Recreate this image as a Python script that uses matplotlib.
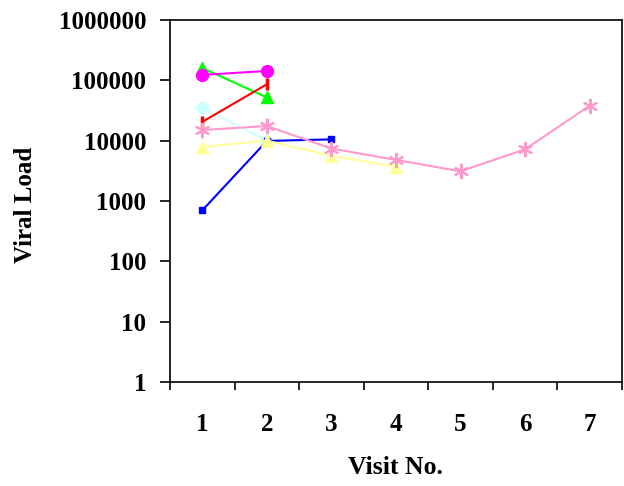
import matplotlib.pyplot as plt
import numpy as np

# viral load per patient across visits
visits = np.arange(1, 8)

cyan_vl = [35000, 10000]
blue_vl = [700, 9900, 10500]
yellow_vl = [7900, 10000, 5600, 3700]
green_vl = [160000, 52000]
magenta_vl = [123000, 143000]
red_vl = [20500, 86000]
pink_vl = [15000, 17500, 7400, 4800, 3100, 7200, 38000]

tick_labels = ['1', '2', '3', '4', '5', '6', '7']

plt.rcParams['font.family'] = ['Liberation Serif', 'DejaVu Serif']
plt.rcParams['font.weight'] = 'bold'

fig = plt.figure(figsize=(6.24, 4.86), dpi=100)
ax = fig.add_axes([170 / 624, 104 / 486, 452 / 624, 362 / 486])

lw = 1.5
ax.plot(visits[:2], cyan_vl, color='#CCFFFF', lw=lw, marker='D', ms=7, zorder=2)
ax.plot(visits[:3], blue_vl, color='#0000FF', lw=lw, marker='s', ms=4.5, zorder=3)
ax.plot(visits[:4], yellow_vl, color='#FFFF99', lw=lw, marker='^', ms=9, zorder=4)
ax.plot(visits[:2], green_vl, color='#00FF00', lw=lw, marker='^', ms=9, zorder=5)
ax.plot(visits[:2], magenta_vl, color='#FF00FF', lw=lw, marker='o', ms=8.5, zorder=6)
ax.plot(visits[:2], red_vl, color='#FF0000', lw=lw, marker='|', ms=8, mew=2.5, zorder=7)
ax.plot(visits, pink_vl, color='#FF99CC', lw=lw, marker=(6, 2, 0), ms=11, mew=1.5, zorder=8)

ax.set_yscale('log')
ax.set_ylim(1, 1e6)
ax.set_xlim(0.5, 7.5)

yticks = [1, 10, 100, 1000, 10000, 100000, 1000000]
ax.set_yticks(yticks)
ax.set_yticklabels([str(v) for v in yticks])
ax.yaxis.set_minor_locator(plt.NullLocator())
ax.tick_params(axis='y', direction='out', length=7, width=1.2, pad=10, labelsize=18)

# category axis: ticks between visits, labels centred on each visit
ax.set_xticks(np.arange(0.5, 8.0, 1.0))
ax.set_xticklabels([])
ax.set_xticks(visits, minor=True)
ax.set_xticklabels(tick_labels, minor=True)
ax.tick_params(axis='x', which='major', direction='out', length=6, width=1.2)
ax.tick_params(axis='x', which='minor', length=0, pad=22, labelsize=18)

for sp in ax.spines.values():
    sp.set_linewidth(1.2)

fig.text(395 / 624, 1 - 467 / 486, 'Visit No.', ha='center', va='center',
         fontsize=18.5, fontweight='bold')
fig.text(25 / 624, 1 - 205 / 486, 'Viral Load', ha='center', va='center',
         rotation=90, fontsize=18, fontweight='bold')

fig.savefig('out.png', dpi=100)
